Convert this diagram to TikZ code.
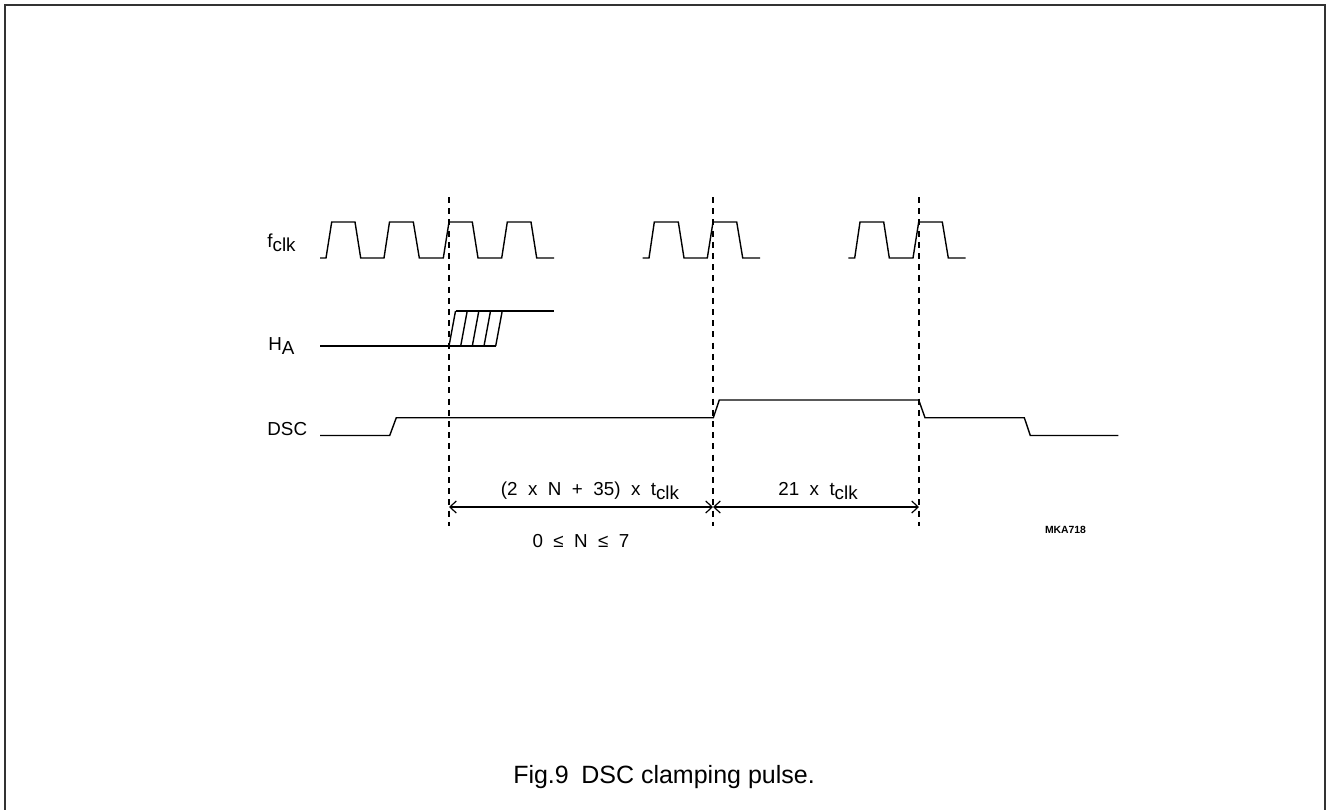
\documentclass[tikz,border=0pt]{standalone}
\usepackage{fontspec}
\setmainfont{Liberation Sans}
\usepackage{tikz}
\usetikzlibrary{arrows.meta}
\tikzstyle{frame} = [line width=0.8pt, draw=black!80]
\tikzstyle{wave} = [line width=0.7pt, line join=miter]
\tikzstyle{marker} = [line width=0.6pt, dash pattern=on 3pt off 2.6pt]
\tikzstyle{signame} = [font=\fontsize{9.4}{11}\selectfont, inner sep=0pt, anchor=base west]
\tikzstyle{timelabel} = [font=\fontsize{9.4}{11}\selectfont, inner sep=0pt, anchor=base]
\tikzstyle{dimline} = [line width=0.6pt, {Straight Barb[length=3.2pt,width=6pt]}-{Straight Barb[length=3.2pt,width=6pt]}]
\newcommand{\lowered}[1]{\raisebox{-0.22em}{#1}}

\begin{document}
\begin{tikzpicture}[x=0.5pt, y=-0.5pt]
            \useasboundingbox (0,0) rectangle (1326,809);
            \draw [frame] (5,812) -- (5,5) -- (1325,5) -- (1325,812);

            % signal names
            \node (fclk) [signame] at (267,247.5) {f\lowered{clk}};
            \node (ha) [signame] at (268,350) {H\lowered{A}};
            \node (dsc) [signame] at (267,435.5) {DSC};

            % clock
            \draw [wave] (320,258) -- (326,258) -- (331.7,222) -- (355,222) -- (360.7,258) -- (384,258) -- (389.5,222) -- (413.3,222) -- (419.3,258) -- (443.3,258) -- (449,222) -- (472.3,222) -- (478,258) -- (501.7,258) -- (507.3,222) -- (531,222) -- (536.7,258) -- (554,258);
            \draw [wave] (642.7,258) -- (649,258) -- (654.3,222) -- (678.3,222) -- (684,258) -- (707.3,258) -- (713,222) -- (736.7,222) -- (742.7,258) -- (760,258);
            \draw [wave] (848.3,258) -- (854.7,258) -- (860,222) -- (883.7,222) -- (889.3,258) -- (913,258) -- (918.7,222) -- (942.3,222) -- (948.3,258) -- (965.7,258);

            % H_A with uncertain edge
            \draw [wave] (320,346) -- (495.7,346);
            \draw [wave] (455.5,311) -- (554,311);
            \draw [wave] (449,346) -- (455.5,311);
            \draw [wave] (460.7,346) -- (467.2,311);
            \draw [wave] (472.3,346) -- (478.8,311);
            \draw [wave] (484,346) -- (490.5,311);
            \draw [wave] (495.7,346) -- (502.2,311);

            % DSC
            \draw [wave] (320,435.5) -- (389.7,435.5) -- (396.3,417.7) -- (713.3,417.7) -- (719.3,400) -- (918.7,400) -- (925,417.7) -- (1024.3,417.7) -- (1030.3,435.5) -- (1118.3,435.5);

            % markers
            \coordinate (t0) at (449,507);
            \coordinate (t1) at (713,507);
            \coordinate (t2) at (919,507);
            \draw [marker] (449,197) -- (449,526);
            \draw [marker] (713,197) -- (713,526);
            \draw [marker] (919,197) -- (919,526);

            \draw [dimline] (t0) -- (t1);
            \draw [dimline] (t1) -- (t2);

            \node (span1) [timelabel] at (590,495) {(2~~x~~N~~+~~35)~~x~~t\lowered{clk}};
            \node (span2) [timelabel] at (818,495) {21~~x~~t\lowered{clk}};
            \node (range) [timelabel] at (581,547) {0~~≤~~N~~≤~~7};

            \node (code) [font=\fontsize{5.2}{6}\selectfont\bfseries, inner sep=0pt, anchor=base] at (1065.5,533) {MKA718};
            \node (caption) [font=\fontsize{12.5}{15}\selectfont, inner sep=0pt, anchor=base] at (664,783) {Fig.9\hspace{0.5em}DSC clamping pulse.};
        \end{tikzpicture}
\end{document}
